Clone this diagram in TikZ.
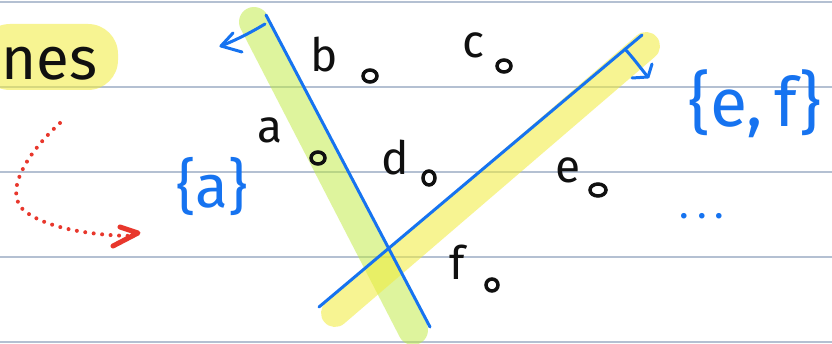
\documentclass[tikz,border=0pt]{standalone}
\usepackage{fontspec}
\setmainfont{Fira Sans}
\definecolor{rule}{HTML}{B4C0D2}
\definecolor{pen}{HTML}{1673F0}
\definecolor{redpen}{HTML}{E8372C}
\definecolor{ink}{HTML}{101010}
\definecolor{hly}{HTML}{F2EC3A}
\definecolor{hlg}{HTML}{BEEB3C}
\tikzset{
  ruleline/.style={rule, line width=1.4pt},
  bluepen/.style={pen, line width=3pt, line cap=round, line join=round},
  hlyellow/.style={hly, opacity=0.55, line width=28pt, line cap=round},
  hlgreen/.style={hlg, opacity=0.5, line width=30pt, line cap=round},
  inktext/.style={text=ink, font=\fontsize{46}{50}\selectfont, inner sep=0pt},
  bluetext/.style={text=pen, font=\fontsize{50}{54}\selectfont, inner sep=0pt},
  pt/.style={ink, line width=3.5pt},
}
\begin{document}
\begin{tikzpicture}[x=1pt,y=-1pt]
\useasboundingbox (0,0) rectangle (832,344);
\fill[white] (0,0) rectangle (832,344);
% ruled lines
\foreach \yy in {2,87,172,257,342} \draw[ruleline] (0,\yy) -- (832,\yy);
% highlight behind "nes"
\fill[hly, opacity=0.55, rounded corners=30pt] (-20,24) rectangle (118,90);
\node[inktext, font=\fontsize{60}{64}\selectfont, anchor=west] (nes) at (1,64) {nes};
% red dotted arrow
\coordinate (r0) at (60,123);
\coordinate (r1) at (26,212);
\coordinate (r2) at (136,236);
\draw[redpen, line width=4pt, line cap=round, dash pattern=on 0pt off 8.5pt]
  (r0) .. controls (25,155) and (2,195) .. (r1) .. controls (50,230) and (100,236) .. (r2);
\coordinate (rh1) at (120,227);
\coordinate (rh2) at (138,233);
\coordinate (rh3) at (113,246);
\draw[redpen, line width=5pt, line cap=round, line join=round] (rh1) -- (rh2) -- (rh3);
% highlights of the two lines
\coordinate (g1) at (254,22);
\coordinate (g2) at (413,330);
\coordinate (y1) at (335,313);
\coordinate (y2) at (646,46);
\draw[hlgreen] (g1) -- (g2);
\draw[hlyellow] (y1) -- (y2);
% blue lines
\coordinate (l1a) at (266,15);
\coordinate (l1b) at (430,327);
\coordinate (l2a) at (319,307);
\coordinate (l2b) at (642,35);
\draw[bluepen] (l1a) -- (l1b);
\draw[bluepen] (l2a) -- (l2b);
% direction arrow of line 1
\coordinate (a1s) at (265,24);
\coordinate (a1t) at (221,46);
\draw[bluepen] (a1s) .. controls (250,33) and (236,40) .. (a1t);
\coordinate (a1h1) at (233,33);
\coordinate (a1h2) at (242,52);
\draw[bluepen] (a1h1) -- (a1t) -- (a1h2);
% direction arrow of line 2
\coordinate (a2s) at (625,49);
\coordinate (a2t) at (648,77);
\draw[bluepen] (a2s) .. controls (635,60) and (642,70) .. (a2t);
\coordinate (a2h1) at (632,78);
\coordinate (a2h2) at (652,64);
\draw[bluepen] (a2h1) -- (a2t) -- (a2h2);
% labels and points
\node[inktext] (lb) at (324,55) {b};
\node[inktext] (lc) at (473,45) {c};
\node[inktext] (la) at (270,130) {a};
\node[inktext] (ld) at (395,158) {d};
\node[inktext] (le) at (568,170) {e};
\node[inktext] (lf) at (457,262) {f};
\draw[pt] (370,76) ellipse (7pt and 6pt);
\draw[pt] (504,66) ellipse (7pt and 6pt);
\draw[pt] (318,158) ellipse (7pt and 6pt);
\draw[pt] (429,178) ellipse (6pt and 7pt);
\draw[pt] (598,190) ellipse (8pt and 6pt);
\draw[pt] (492,285) ellipse (6pt and 6pt);
% blue sets
\node[bluetext, font=\fontsize{60}{64}\selectfont] (sa) at (212,187) {\{a\}};
\node[bluetext, font=\fontsize{68}{72}\selectfont, anchor=west] (sef) at (688,104) {\{e,\,f\}};
\node[bluetext, font=\fontsize{40}{44}\selectfont] (dots) at (702,216) {.\hspace{8pt}.\hspace{8pt}.};
\end{tikzpicture}
\end{document}
